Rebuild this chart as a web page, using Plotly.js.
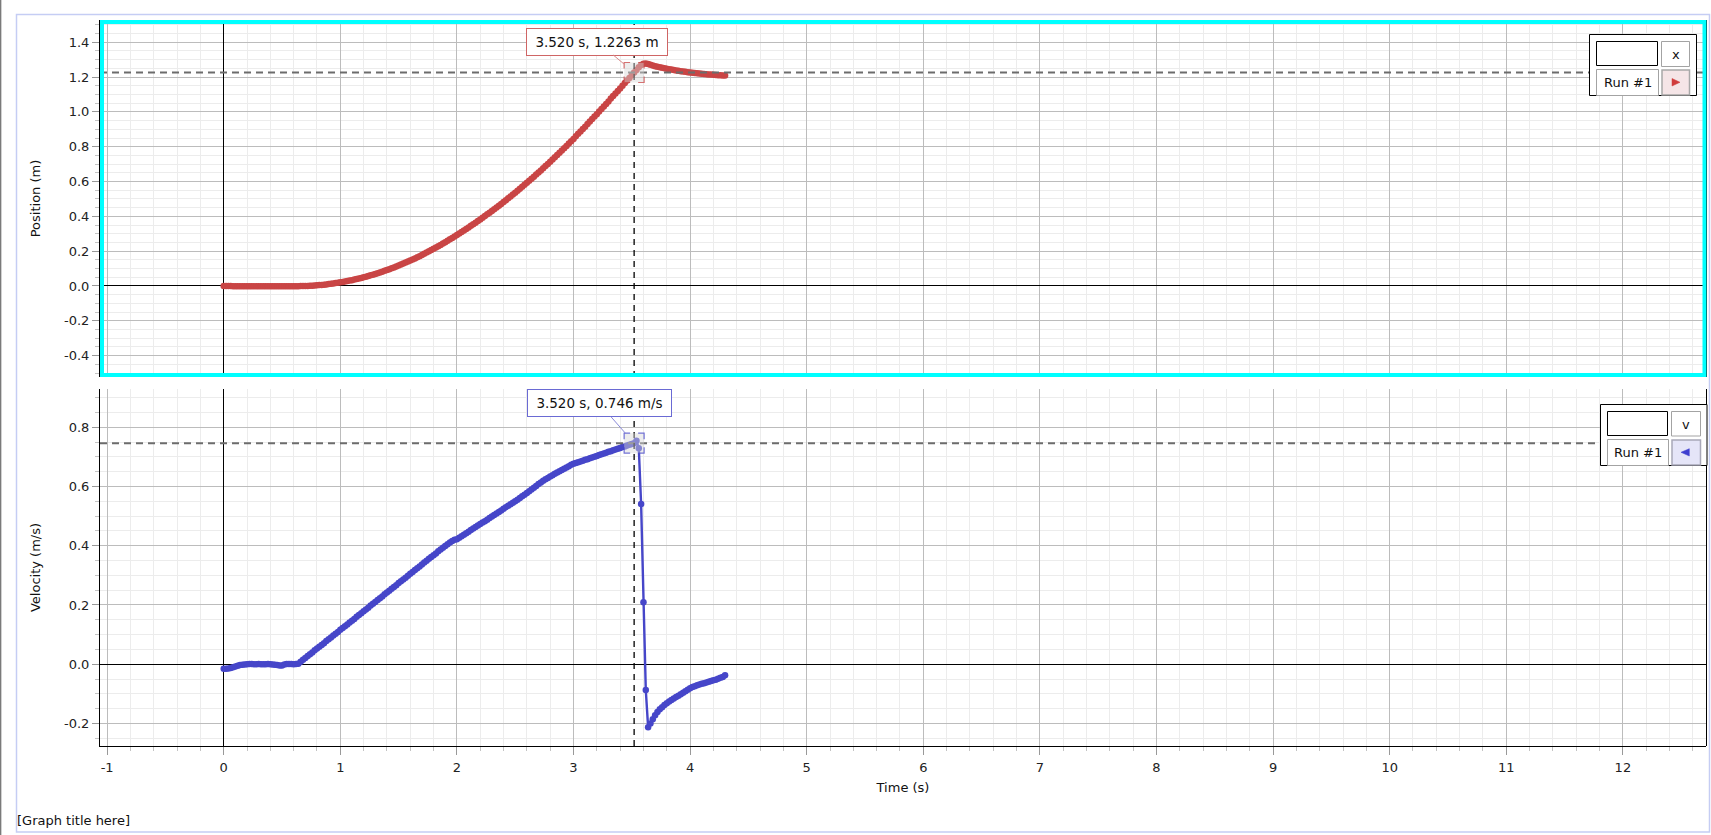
<!DOCTYPE html>
<html>
<head>
<meta charset="utf-8">
<script src="https://cdn.plot.ly/plotly-3.0.1.min.js"></script>
<style>
html,body{margin:0;padding:0;background:#fff;overflow:hidden}
#chart{width:1711px;height:835px}
</style>
</head>
<body>
<div id="chart"></div>
<script>
// ---------------- data ----------------
const time = [
0.00,0.02,0.04,0.06,0.08,0.10,0.12,0.14,0.16,0.18,
0.20,0.22,0.24,0.26,0.28,0.30,0.32,0.34,0.36,0.38,
0.40,0.42,0.44,0.46,0.48,0.50,0.52,0.54,0.56,0.58,
0.60,0.62,0.64,0.66,0.68,0.70,0.72,0.74,0.76,0.78,
0.80,0.82,0.84,0.86,0.88,0.90,0.92,0.94,0.96,0.98,
1.00,1.02,1.04,1.06,1.08,1.10,1.12,1.14,1.16,1.18,
1.20,1.22,1.24,1.26,1.28,1.30,1.32,1.34,1.36,1.38,
1.40,1.42,1.44,1.46,1.48,1.50,1.52,1.54,1.56,1.58,
1.60,1.62,1.64,1.66,1.68,1.70,1.72,1.74,1.76,1.78,
1.80,1.82,1.84,1.86,1.88,1.90,1.92,1.94,1.96,1.98,
2.00,2.02,2.04,2.06,2.08,2.10,2.12,2.14,2.16,2.18,
2.20,2.22,2.24,2.26,2.28,2.30,2.32,2.34,2.36,2.38,
2.40,2.42,2.44,2.46,2.48,2.50,2.52,2.54,2.56,2.58,
2.60,2.62,2.64,2.66,2.68,2.70,2.72,2.74,2.76,2.78,
2.80,2.82,2.84,2.86,2.88,2.90,2.92,2.94,2.96,2.98,
3.00,3.02,3.04,3.06,3.08,3.10,3.12,3.14,3.16,3.18,
3.20,3.22,3.24,3.26,3.28,3.30,3.32,3.34,3.36,3.38,
3.40,3.42,3.44,3.46,3.48,3.50,3.52,3.54,3.56,3.58,
3.60,3.62,3.64,3.66,3.68,3.70,3.72,3.74,3.76,3.78,
3.80,3.82,3.84,3.86,3.88,3.90,3.92,3.94,3.96,3.98,
4.00,4.02,4.04,4.06,4.08,4.10,4.12,4.14,4.16,4.18,
4.20,4.22,4.24,4.26,4.28,4.30
];

const position = [
0.0000,-0.0003,-0.0006,-0.0008,-0.0010,-0.0011,-0.0012,-0.0012,-0.0012,-0.0012,
-0.0012,-0.0012,-0.0012,-0.0012,-0.0012,-0.0012,-0.0012,-0.0012,-0.0012,-0.0012,
-0.0012,-0.0012,-0.0012,-0.0013,-0.0013,-0.0014,-0.0014,-0.0014,-0.0013,-0.0013,
-0.0012,-0.0011,-0.0010,-0.0008,-0.0005,-0.0001,0.0004,0.0011,0.0019,0.0028,
0.0038,0.0050,0.0062,0.0076,0.0091,0.0107,0.0125,0.0144,0.0164,0.0185,
0.0207,0.0229,0.0254,0.0280,0.0307,0.0335,0.0365,0.0396,0.0429,0.0462,
0.0497,0.0533,0.0571,0.0609,0.0649,0.0690,0.0733,0.0777,0.0822,0.0868,
0.0915,0.0964,0.1014,0.1066,0.1118,0.1172,0.1227,0.1284,0.1342,0.1401,
0.1461,0.1522,0.1585,0.1649,0.1714,0.1781,0.1849,0.1918,0.1988,0.2060,
0.2133,0.2207,0.2282,0.2359,0.2437,0.2516,0.2597,0.2679,0.2762,0.2846,
0.2930,0.3015,0.3101,0.3188,0.3276,0.3365,0.3455,0.3546,0.3638,0.3731,
0.3825,0.3920,0.4016,0.4113,0.4211,0.4310,0.4410,0.4511,0.4613,0.4716,
0.4820,0.4926,0.5033,0.5141,0.5250,0.5360,0.5471,0.5583,0.5696,0.5810,
0.5925,0.6041,0.6158,0.6277,0.6397,0.6518,0.6640,0.6763,0.6887,0.7012,
0.7138,0.7265,0.7393,0.7522,0.7652,0.7783,0.7915,0.8047,0.8180,0.8314,
0.8449,0.8605,0.8741,0.8878,0.9015,0.9153,0.9311,0.9450,0.9589,0.9729,
0.9869,1.0030,1.0172,1.0314,1.0456,1.0599,1.0763,1.0907,1.1052,1.1197,
1.1343,1.1509,1.1656,1.1803,1.1951,1.2109,1.2263,1.2413,1.2561,1.2688,
1.2763,1.2775,1.2745,1.2704,1.2665,1.2629,1.2596,1.2565,1.2535,1.2507,
1.2480,1.2454,1.2429,1.2405,1.2382,1.2360,1.2339,1.2319,1.2300,1.2282,
1.2265,1.2249,1.2234,1.2220,1.2206,1.2193,1.2180,1.2167,1.2155,1.2143,
1.2132,1.2121,1.2111,1.2102,1.2093,1.2085
];

const velocity = [
-0.015,-0.015,-0.014,-0.013,-0.010,-0.008,-0.005,-0.003,-0.002,-0.001,
0.000,0.001,0.001,0.000,0.000,0.001,0.000,0.000,0.000,0.001,
0.000,-0.001,-0.002,-0.003,-0.004,-0.004,-0.001,0.001,0.001,0.001,
0.000,0.001,0.002,0.008,0.015,0.021,0.028,0.034,0.040,0.047,
0.053,0.059,0.065,0.071,0.078,0.084,0.090,0.097,0.103,0.109,
0.116,0.122,0.128,0.134,0.141,0.147,0.153,0.160,0.166,0.172,
0.179,0.185,0.191,0.198,0.204,0.210,0.217,0.223,0.229,0.236,
0.242,0.248,0.255,0.261,0.267,0.274,0.280,0.286,0.292,0.299,
0.305,0.311,0.318,0.324,0.330,0.337,0.343,0.349,0.356,0.362,
0.368,0.374,0.381,0.387,0.393,0.399,0.405,0.411,0.416,0.420,
0.422,0.427,0.432,0.437,0.442,0.447,0.453,0.458,0.463,0.468,
0.473,0.478,0.483,0.488,0.494,0.499,0.504,0.509,0.514,0.519,
0.525,0.530,0.535,0.540,0.545,0.550,0.555,0.561,0.567,0.572,
0.578,0.584,0.590,0.596,0.602,0.608,0.613,0.619,0.624,0.629,
0.634,0.638,0.643,0.647,0.651,0.656,0.660,0.664,0.668,0.673,
0.677,0.679,0.682,0.684,0.687,0.690,0.692,0.695,0.698,0.700,
0.703,0.706,0.709,0.711,0.714,0.717,0.719,0.722,0.725,0.727,
0.730,0.733,0.735,0.738,0.741,0.743,0.746,0.754,0.729,0.541,
0.209,-0.087,-0.213,-0.200,-0.186,-0.172,-0.161,-0.152,-0.145,-0.138,
-0.132,-0.126,-0.121,-0.116,-0.111,-0.106,-0.101,-0.096,-0.091,-0.086,
-0.081,-0.077,-0.074,-0.071,-0.068,-0.066,-0.064,-0.062,-0.059,-0.057,
-0.054,-0.052,-0.049,-0.046,-0.043,-0.037
];

// cursor (examine) readout
const cursorTime = 3.520;
const cursorPosition = 1.2263;
const cursorVelocity = 0.746;

// tick labels
const timeTicks = [-1,0,1,2,3,4,5,6,7,8,9,10,11,12];
const timeTickText = ['-1','0','1','2','3','4','5','6','7','8','9','10','11','12'];
const posTicks = [-0.4,-0.2,0,0.2,0.4,0.6,0.8,1.0,1.2,1.4];
const posTickText = ['-0.4','-0.2','0.0','0.2','0.4','0.6','0.8','1.0','1.2','1.4'];
const velTicks = [-0.2,0,0.2,0.4,0.6,0.8];
const velTickText = ['-0.2','0.0','0.2','0.4','0.6','0.8'];

// labels
const graphTitle = '[Graph title here]';
const timeTitle = 'Time (s)';
const posTitle = 'Position (m)';
const velTitle = 'Velocity (m/s)';
const posSymbol = 'x';
const velSymbol = 'v';
const runName = 'Run #1';

// ---------------- layout helpers ----------------
const W = 1711, H = 835;
const PX = v => v / W;
const PY = v => 1 - v / H;
const FONT = 'DejaVu Sans, Verdana, sans-serif';
const RED = '#c94545';
const BLUE = '#4646c9';

const gridCommon = {
  showgrid: true, gridcolor: '#bcbcbc', gridwidth: 1,
  zeroline: true, zerolinecolor: '#000000', zerolinewidth: 1,
  tickfont: {family: FONT, size: 13, color: '#222'},
  fixedrange: true, automargin: false
};

const layout = {
  width: W, height: H,
  margin: {l: 0, r: 0, t: 0, b: 0},
  paper_bgcolor: '#ffffff', plot_bgcolor: '#ffffff',
  font: {family: FONT, size: 13, color: '#222'},
  showlegend: false,
  title: {
    text: graphTitle, xref: 'container', yref: 'container',
    x: PX(17), xanchor: 'left', y: 1 - 820.5 / H, yanchor: 'middle',
    font: {family: FONT, size: 13, color: '#111'}
  },
  xaxis: Object.assign({}, gridCommon, {
    domain: [PX(100), PX(1706)], range: [-1.061, 12.713], anchor: 'y2',
    tickmode: 'array', tickvals: timeTicks, ticktext: timeTickText,
    ticks: 'outside', ticklen: 8, tickcolor: '#999', tickwidth: 1,
    ticklabelstandoff: 1,
    showline: true, linecolor: '#000', linewidth: 1,
    minor: {tickmode: 'linear', tick0: 0, dtick: 0.2, showgrid: true, gridcolor: '#ececec', ticks: 'outside', ticklen: 4, tickcolor: '#c4c4c4'},
    title: {text: timeTitle, standoff: 9, font: {family: FONT, size: 13, color: '#111'}}
  }),
  xaxis2: Object.assign({}, gridCommon, {
    domain: [PX(100), PX(1706)], range: [-1.061, 12.713], anchor: 'y', matches: 'x',
    tickmode: 'array', tickvals: timeTicks, ticktext: timeTickText,
    showticklabels: false, ticks: '',
    showline: false,
    minor: {tickmode: 'linear', tick0: 0, dtick: 0.2, showgrid: true, gridcolor: '#ececec'}
  }),
  yaxis: Object.assign({}, gridCommon, {
    domain: [PY(377), PY(20)], range: [-0.523, 1.528], anchor: 'x2',
    tickmode: 'array', tickvals: posTicks, ticktext: posTickText,
    ticks: 'outside', ticklen: 7, tickcolor: '#999', tickwidth: 1,
    showline: true, linecolor: '#000', linewidth: 1,
    minor: {tickmode: 'linear', tick0: 0, dtick: 0.05, showgrid: true, gridcolor: '#ececec', ticks: 'outside', ticklen: 4, tickcolor: '#c4c4c4'},
    title: {text: posTitle, standoff: 20, font: {family: FONT, size: 13, color: '#111'}}
  }),
  yaxis2: Object.assign({}, gridCommon, {
    domain: [PY(746), PY(389)], range: [-0.276, 0.929], anchor: 'x',
    tickmode: 'array', tickvals: velTicks, ticktext: velTickText,
    ticks: 'outside', ticklen: 7, tickcolor: '#999', tickwidth: 1,
    showline: true, linecolor: '#000', linewidth: 1,
    minor: {tickmode: 'linear', tick0: 0, dtick: 0.05, showgrid: true, gridcolor: '#ececec', ticks: 'outside', ticklen: 4, tickcolor: '#c4c4c4'},
    title: {text: velTitle, standoff: 20, font: {family: FONT, size: 13, color: '#111'}}
  })
};

// ---------------- shapes ----------------
const corners = 'M-10,-4 L-10,-10 L-4,-10 M4,-10 L10,-10 L10,-4 M10,4 L10,10 L4,10 M-4,10 L-10,10 L-10,4';
const shapes = [
  // outer frame of the graph panel
  {type: 'rect', xref: 'paper', yref: 'paper', x0: PX(16.5), x1: PX(1709.5), y0: PY(832), y1: PY(14.5),
   line: {color: '#c5cdf4', width: 1.5}, fillcolor: 'rgba(0,0,0,0)', layer: 'below'},
  {type: 'line', xref: 'paper', yref: 'paper', x0: PX(0.6), x1: PX(0.6), y0: 0, y1: 1,
   line: {color: '#7a7a7a', width: 1.5}, layer: 'below'},
  // right frame lines
  {type: 'line', xref: 'paper', yref: 'paper', x0: PX(1706.5), x1: PX(1706.5), y0: PY(389), y1: PY(746),
   line: {color: '#000', width: 1}, layer: 'above'},
  {type: 'line', xref: 'paper', yref: 'paper', x0: PX(1706.5), x1: PX(1706.5), y0: PY(20), y1: PY(377),
   line: {color: '#000', width: 1}, layer: 'above'},
  // cursor lines (top)
  {type: 'line', xref: 'x2 domain', yref: 'y', x0: 0, x1: 1, y0: cursorPosition, y1: cursorPosition,
   line: {color: '#6c6c6c', width: 2, dash: '7px,5px'}, layer: 'above'},
  {type: 'line', xref: 'x2', yref: 'y domain', x0: cursorTime, x1: cursorTime, y0: 0, y1: 1,
   line: {color: '#000', width: 1.3, dash: '6px,5px'}, layer: 'above'},
  // cursor lines (bottom)
  {type: 'line', xref: 'x domain', yref: 'y2', x0: 0, x1: 1, y0: cursorVelocity, y1: cursorVelocity,
   line: {color: '#6c6c6c', width: 2, dash: '7px,5px'}, layer: 'above'},
  {type: 'line', xref: 'x', yref: 'y2 domain', x0: cursorTime, x1: cursorTime, y0: 0, y1: 1,
   line: {color: '#000', width: 1.3, dash: '6px,5px'}, layer: 'above'},
  // selection squares
  {type: 'rect', xref: 'x2', yref: 'y', xsizemode: 'pixel', ysizemode: 'pixel',
   xanchor: cursorTime, yanchor: cursorPosition, x0: -10, x1: 10, y0: -10, y1: 10,
   fillcolor: 'rgba(215,215,215,0.45)', line: {width: 0}, layer: 'above'},
  {type: 'path', xref: 'x2', yref: 'y', xsizemode: 'pixel', ysizemode: 'pixel',
   xanchor: cursorTime, yanchor: cursorPosition, path: corners,
   line: {color: 'rgba(201,69,69,0.75)', width: 1.2}, layer: 'above'},
  {type: 'rect', xref: 'x', yref: 'y2', xsizemode: 'pixel', ysizemode: 'pixel',
   xanchor: cursorTime, yanchor: cursorVelocity, x0: -10, x1: 10, y0: -10, y1: 10,
   fillcolor: 'rgba(215,215,215,0.45)', line: {width: 0}, layer: 'above'},
  {type: 'path', xref: 'x', yref: 'y2', xsizemode: 'pixel', ysizemode: 'pixel',
   xanchor: cursorTime, yanchor: cursorVelocity, path: corners,
   line: {color: 'rgba(70,70,201,0.75)', width: 1.2}, layer: 'above'},
  // selected-graph highlight
  {type: 'rect', xref: 'paper', yref: 'paper', x0: PX(102), x1: PX(1704.5), y0: PY(375), y1: PY(22),
   line: {color: '#00ffff', width: 4}, fillcolor: 'rgba(0,0,0,0)', layer: 'above'}
];

function box(x0, y0, x1, y1, line, fill, lw) {
  return {type: 'rect', xref: 'paper', yref: 'paper', x0: PX(x0), x1: PX(x1), y0: PY(y1), y1: PY(y0),
          line: {color: line, width: lw || 1}, fillcolor: fill, layer: 'above'};
}
function tri(pts, color) {
  const p = pts.map((q, i) => (i ? 'L' : 'M') + PX(q[0]) + ',' + PY(q[1])).join(' ') + ' Z';
  return {type: 'path', xref: 'paper', yref: 'paper', path: p, fillcolor: color, line: {color: color, width: 0.5}, layer: 'above'};
}
// top legend panel
shapes.push(box(1589.5, 34.5, 1696.5, 95.5, '#000', '#fff', 1));
shapes.push(box(1596.5, 41.5, 1657.5, 65.5, '#000', '#fff', 1));
shapes.push(box(1661.5, 41.5, 1689.5, 66.5, '#a3a3a3', '#fff', 1));
shapes.push(box(1596.5, 69.5, 1658.5, 95.5, '#a3a3a3', '#fff', 1));
shapes.push(box(1662, 70, 1689.5, 95, '#a8a8a8', '#f5e5e7', 1.5));
shapes.push(tri([[1672, 78.5], [1680, 82.3], [1672, 86]], '#d03c3c'));
// bottom legend panel
shapes.push(box(1600.5, 404.5, 1707, 465.5, '#000', '#fff', 1));
shapes.push(box(1607.5, 411.5, 1667.5, 435.5, '#000', '#fff', 1));
shapes.push(box(1671.5, 411.5, 1700.5, 436, '#a3a3a3', '#fff', 1));
shapes.push(box(1607.5, 439.5, 1668.5, 465.5, '#a3a3a3', '#fff', 1));
shapes.push(box(1672, 440, 1700.5, 465, '#a8a8b8', '#e5e5f8', 1.5));
shapes.push(tri([[1689.3, 448.7], [1681, 452.3], [1689.3, 456]], '#3f3fcf'));
layout.shapes = shapes;

// ---------------- annotations ----------------
function label(x, y, text) {
  return {xref: 'paper', yref: 'paper', x: PX(x), y: PY(y), text: text, showarrow: false,
          xanchor: 'center', yanchor: 'middle', font: {family: FONT, size: 13, color: '#111'}};
}
layout.annotations = [
  {xref: 'x2', yref: 'y', x: cursorTime, y: cursorPosition,
   text: cursorTime.toFixed(3) + ' s, ' + cursorPosition.toFixed(4) + ' m',
   showarrow: true, arrowhead: 0, arrowwidth: 1, arrowcolor: '#d98a8a', ax: -37, ay: -31, standoff: 13,
   bgcolor: '#ffffff', bordercolor: '#cf6565', borderwidth: 1, borderpad: 4, width: 132, height: 18,
   font: {family: FONT, size: 13.5, color: '#111'}},
  {xref: 'x', yref: 'y2', x: cursorTime, y: cursorVelocity,
   text: cursorTime.toFixed(3) + ' s, ' + cursorVelocity.toFixed(3) + ' m/s',
   showarrow: true, arrowhead: 0, arrowwidth: 1, arrowcolor: '#8a8ad9', ax: -35, ay: -40, standoff: 13,
   bgcolor: '#ffffff', bordercolor: '#6a6ad4', borderwidth: 1, borderpad: 4, width: 135, height: 18,
   font: {family: FONT, size: 13.5, color: '#111'}},
  label(1675.5, 54, posSymbol),
  label(1627.5, 82, runName),
  label(1686, 424, velSymbol),
  label(1638, 452, runName)
];

// ---------------- traces ----------------
const data = [
  {x: time, y: position, xaxis: 'x2', yaxis: 'y', type: 'scatter', mode: 'lines+markers',
   line: {color: RED, width: 2.4}, marker: {color: RED, size: 6.5}, hoverinfo: 'skip', cliponaxis: true},
  {x: time, y: velocity, xaxis: 'x', yaxis: 'y2', type: 'scatter', mode: 'lines+markers',
   line: {color: BLUE, width: 2.4}, marker: {color: BLUE, size: 6.5}, hoverinfo: 'skip', cliponaxis: true}
];

Plotly.newPlot('chart', data, layout, {staticPlot: true, displayModeBar: false, responsive: false});
</script>
</body>
</html>
